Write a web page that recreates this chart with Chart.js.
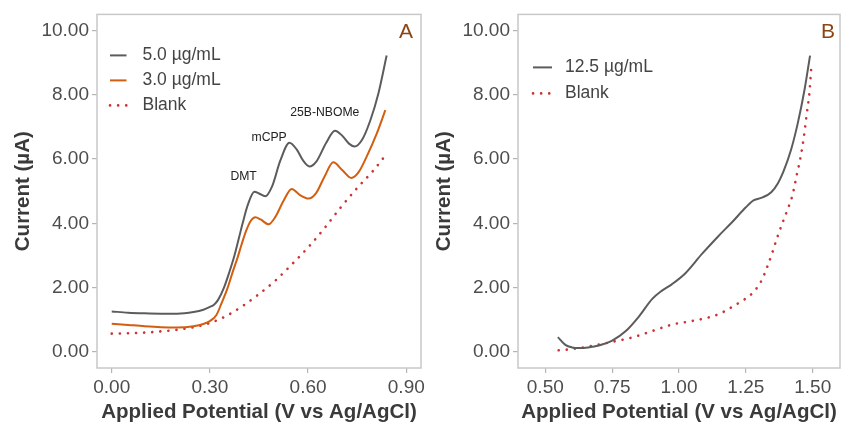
<!DOCTYPE html>
<html>
<head>
<meta charset="utf-8">
<script src="https://cdn.jsdelivr.net/npm/chart.js@4.4.1/dist/chart.umd.min.js"></script>
<style>
  body { margin: 0; background: #fff; }
  #wrapA { position: absolute; left: 0; top: 0; width: 430px; height: 425px; }
  #wrapB { position: absolute; left: 430px; top: 0; width: 412px; height: 425px; }
</style>
</head>
<body>
<div id="wrapA"><canvas id="panelA"></canvas></div>
<div id="wrapB"><canvas id="panelB"></canvas></div>
<script>
// panel A: 5.0 ug/mL mixture
let a5Pot = [0, 0.05, 0.10, 0.15, 0.20, 0.25, 0.28, 0.30, 0.3125, 0.325, 0.343, 0.36, 0.375, 0.39, 0.40, 0.415, 0.436, 0.45, 0.469, 0.49, 0.515, 0.543, 0.565, 0.585, 0.604, 0.625, 0.655, 0.682, 0.705, 0.725, 0.742, 0.765, 0.79, 0.815, 0.84];
let a5Cur = [1.26, 1.22, 1.20, 1.19, 1.19, 1.24, 1.31, 1.40, 1.47, 1.62, 2.00, 2.50, 3.00, 3.60, 4.00, 4.55, 4.98, 4.93, 4.84, 5.15, 5.95, 6.51, 6.30, 5.95, 5.77, 5.92, 6.50, 6.88, 6.72, 6.48, 6.39, 6.60, 7.20, 8.05, 9.22];
// panel A: 3.0 ug/mL
let a3Pot = [0, 0.05, 0.10, 0.15, 0.20, 0.25, 0.28, 0.30, 0.32, 0.335, 0.353, 0.37, 0.385, 0.397, 0.41, 0.425, 0.439, 0.455, 0.479, 0.50, 0.525, 0.55, 0.575, 0.601, 0.625, 0.65, 0.677, 0.705, 0.732, 0.755, 0.78, 0.81, 0.836];
let a3Cur = [0.88, 0.84, 0.80, 0.77, 0.76, 0.80, 0.87, 0.96, 1.15, 1.50, 1.96, 2.50, 2.95, 3.35, 3.75, 4.08, 4.19, 4.12, 3.97, 4.20, 4.70, 5.07, 4.88, 4.77, 4.95, 5.45, 5.90, 5.65, 5.41, 5.60, 6.10, 6.80, 7.52];
// panel A: blank
let aBlankPot = [0, 0.05, 0.10, 0.15, 0.20, 0.25, 0.30, 0.35, 0.40, 0.45, 0.50, 0.55, 0.60, 0.65, 0.70, 0.75, 0.80, 0.835];
let aBlankCur = [0.57, 0.58, 0.60, 0.64, 0.69, 0.77, 0.90, 1.12, 1.43, 1.80, 2.22, 2.72, 3.25, 3.85, 4.50, 5.10, 5.65, 6.10];

// panel B: 12.5 ug/mL
let b12Pot = [0.547, 0.575, 0.60, 0.627, 0.66, 0.70, 0.75, 0.80, 0.85, 0.90, 0.935, 0.974, 1.024, 1.085, 1.147, 1.20, 1.25, 1.28, 1.31, 1.345, 1.37, 1.39, 1.419, 1.444, 1.469, 1.49];
let b12Cur = [0.46, 0.22, 0.14, 0.12, 0.14, 0.20, 0.35, 0.64, 1.10, 1.65, 1.90, 2.11, 2.45, 3.04, 3.60, 4.05, 4.50, 4.72, 4.80, 4.97, 5.25, 5.60, 6.29, 7.11, 8.14, 9.22];
// panel B: blank
let bBlankPot = [0.55, 0.60, 0.65, 0.70, 0.76, 0.825, 0.90, 0.974, 1.04, 1.10, 1.15, 1.203, 1.228, 1.271, 1.308, 1.33, 1.349, 1.366, 1.385, 1.405, 1.424, 1.442, 1.454, 1.467, 1.478, 1.488, 1.494];
let bBlankCur = [0.05, 0.09, 0.15, 0.23, 0.33, 0.45, 0.65, 0.85, 0.95, 1.05, 1.18, 1.42, 1.55, 1.80, 2.21, 2.65, 3.09, 3.53, 3.97, 4.41, 4.87, 5.57, 6.03, 6.70, 7.42, 8.09, 8.78];

let xTicksA = [0, 0.3, 0.6, 0.9];
let xTicksB = [0.5, 0.75, 1.0, 1.25, 1.5];
let yTicks = [0, 2, 4, 6, 8, 10];

// peak labels, in data units
let peakNotes = [
    { text: 'DMT', x: 0.403, y: 5.45 },
    { text: 'mCPP', x: 0.481, y: 6.66 },
    { text: '25B-NBOMe', x: 0.651, y: 7.43 }
];

const fontFamily = "'Liberation Sans', Arial, sans-serif";
const tickFont = { family: fontFamily, size: 19 };
const titleFont = { family: fontFamily, size: 20.5, weight: 'bold' };

function toPoints(xs, ys) {
    return xs.map((x, i) => ({ x: x, y: ys[i] }));
}

function solid(label, color, xs, ys) {
    return {
        label: label, data: toPoints(xs, ys),
        borderColor: color, borderWidth: 2, pointRadius: 0,
        cubicInterpolationMode: 'monotone', fill: false
    };
}

function dotted(label, color, xs, ys) {
    return {
        label: label, data: toPoints(xs, ys),
        borderColor: color, borderWidth: 2.6, borderDash: [0.1, 8], borderCapStyle: 'round',
        pointRadius: 0, cubicInterpolationMode: 'monotone', fill: false
    };
}

// frame, legend, panel letter, peak labels
const panelDecor = {
    id: 'panelDecor',
    afterDatasetsDraw(chart, args, opts) {
        const ctx = chart.ctx;
        const a = chart.chartArea;
        ctx.save();
        ctx.strokeStyle = '#c8c8c8';
        ctx.lineWidth = 1.5;
        ctx.strokeRect(a.left, a.top, a.right - a.left, a.bottom - a.top);

        ctx.fillStyle = '#8b4513';
        ctx.font = '21px ' + fontFamily;
        ctx.textAlign = 'center';
        ctx.textBaseline = 'middle';
        ctx.fillText(opts.letter, a.right + opts.letterDx, a.top + 18);

        chart.data.datasets.forEach((ds, i) => {
            const y = a.top + opts.legendTop + i * opts.legendGap;
            const x = a.left + opts.legendLeft;
            ctx.beginPath();
            ctx.strokeStyle = ds.borderColor;
            ctx.lineWidth = ds.borderWidth;
            ctx.lineCap = ds.borderCapStyle || 'butt';
            ctx.setLineDash(ds.borderDash || []);
            ctx.moveTo(x, y);
            ctx.lineTo(x + opts.keyLength, y);
            ctx.stroke();
            ctx.setLineDash([]);
            ctx.fillStyle = '#444';
            ctx.font = '17.5px ' + fontFamily;
            ctx.textAlign = 'left';
            ctx.fillText(ds.label, x + opts.keyLength + opts.keyGap, y);
        });

        ctx.fillStyle = '#222';
        ctx.font = '12.2px ' + fontFamily;
        ctx.textAlign = 'center';
        (opts.notes || []).forEach(n => {
            ctx.fillText(n.text, chart.scales.x.getPixelForValue(n.x), chart.scales.y.getPixelForValue(n.y));
        });
        ctx.restore();
    }
};

function makeScales(xMin, xMax, xTicks, yWidth, yTitlePad) {
    return {
        x: {
            type: 'linear', min: xMin, max: xMax,
            afterBuildTicks: s => { s.ticks = xTicks.map(v => ({ value: v })); },
            afterFit: s => { s.height = 57; },
            ticks: { callback: v => v.toFixed(2), font: tickFont, color: '#4d4d4d', padding: 3, maxRotation: 0 },
            grid: { drawOnChartArea: false, tickLength: 5, color: '#b5b5b5', lineWidth: 1.2 },
            border: { display: false },
            title: { display: true, text: 'Applied Potential (V vs Ag/AgCl)', font: titleFont, color: '#3a3a3a', padding: { top: 0, bottom: 0 } }
        },
        y: {
            type: 'linear', min: -0.5, max: 10.5,
            afterBuildTicks: s => { s.ticks = yTicks.map(v => ({ value: v })); },
            afterFit: s => { s.width = yWidth; },
            ticks: { callback: v => v.toFixed(2), font: tickFont, color: '#4d4d4d', padding: 3 },
            grid: { drawOnChartArea: false, tickLength: 5, color: '#b5b5b5', lineWidth: 1.2 },
            border: { display: false },
            title: { display: true, text: 'Current (µA)', font: titleFont, color: '#3a3a3a', padding: { top: yTitlePad, bottom: 0 } }
        }
    };
}

let configA = {
    type: 'line',
    data: {
        datasets: [
            solid('5.0 µg/mL', '#5c5c5c', a5Pot, a5Cur),
            solid('3.0 µg/mL', '#d25f10', a3Pot, a3Cur),
            dotted('Blank', '#cd3333', aBlankPot, aBlankCur)
        ]
    },
    options: {
        responsive: true, maintainAspectRatio: false, animation: false,
        layout: { padding: { left: 0, top: 14, right: 9, bottom: 0 } },
        plugins: {
            legend: { display: false }, tooltip: { enabled: false },
            panelDecor: { letter: 'A', letterDx: -15, legendTop: 41, legendGap: 25, legendLeft: 13, keyLength: 16.5, keyGap: 16, notes: peakNotes }
        },
        scales: makeScales(-0.045, 0.945, xTicksA, 97, 11)
    },
    plugins: [panelDecor]
};

let configB = {
    type: 'line',
    data: {
        datasets: [
            solid('12.5 µg/mL', '#5c5c5c', b12Pot, b12Cur),
            dotted('Blank', '#cd3333', bBlankPot, bBlankCur)
        ]
    },
    options: {
        responsive: true, maintainAspectRatio: false, animation: false,
        layout: { padding: { left: 0, top: 14, right: 2, bottom: 0 } },
        plugins: {
            legend: { display: false }, tooltip: { enabled: false },
            panelDecor: { letter: 'B', letterDx: -12, legendTop: 53, legendGap: 26, legendLeft: 15, keyLength: 19, keyGap: 13, notes: [] }
        },
        scales: makeScales(0.398, 1.602, xTicksB, 88, 2)
    },
    plugins: [panelDecor]
};

let chartA = new Chart(document.getElementById('panelA').getContext('2d'), configA);
let chartB = new Chart(document.getElementById('panelB').getContext('2d'), configB);
</script>
</body>
</html>
